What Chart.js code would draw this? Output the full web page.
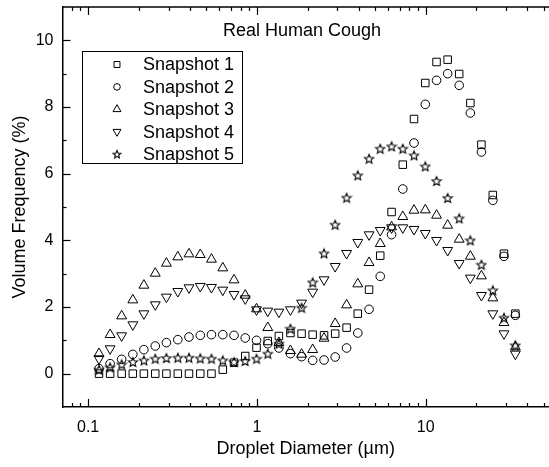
<!DOCTYPE html>
<html>
<head>
<meta charset="utf-8">
<script src="https://cdn.jsdelivr.net/npm/chart.js@4.4.1/dist/chart.umd.min.js"></script>
<style>
  html, body { margin: 0; padding: 0; background: #fff; }
  #wrap { width: 549px; height: 467px; }
</style>
</head>
<body>
<div id="wrap"><canvas id="cough" width="549" height="467"></canvas></div>
<script>
'use strict';

// droplet diameters (µm), log-spaced bins
const diameters = [0.116, 0.135, 0.158, 0.184, 0.214, 0.250, 0.291, 0.340, 0.396, 0.462,
  0.538, 0.628, 0.732, 0.853, 0.995, 1.16, 1.35, 1.58, 1.84, 2.14,
  2.50, 2.91, 3.40, 3.96, 4.62, 5.38, 6.28, 7.32, 8.53, 9.95,
  11.6, 13.5, 15.8, 18.4, 21.4, 25.0, 29.1, 34.0];

// volume frequency (%)
const snapshot1 = [0, 0, 0, 0, 0, 0, 0, 0, 0, 0,
  0, 0.12, 0.33, 0.53, 0.78, 0.98, 1.13, 1.22, 1.2, 1.17,
  1.15, 1.2, 1.38, 1.8, 2.52, 3.54, 4.85, 6.27, 7.64, 8.72,
  9.35, 9.42, 8.99, 8.12, 6.87, 5.36, 3.6, 1.8];
const snapshot2 = [0.15, 0.3, 0.43, 0.58, 0.72, 0.83, 0.93, 1.02, 1.1, 1.15,
  1.17, 1.17, 1.15, 1.07, 1.0, 0.9, 0.77, 0.6, 0.51, 0.4,
  0.41, 0.5, 0.77, 1.22, 1.93, 2.92, 4.17, 5.54, 6.92, 8.08,
  8.8, 9.0, 8.65, 7.82, 6.65, 5.2, 3.52, 1.75];
const snapshot3 = [0.6, 1.17, 1.73, 2.21, 2.65, 3.01, 3.31, 3.5, 3.59, 3.57,
  3.43, 3.17, 2.81, 2.35, 1.94, 1.38, 0.93, 0.69, 0.58, 0.72,
  1.06, 1.5, 2.06, 2.69, 3.33, 3.9, 4.4, 4.71, 4.9, 4.91,
  4.75, 4.45, 4.03, 3.52, 2.93, 2.27, 1.53, 0.8];
const snapshot4 = [0.45, 0.75, 1.14, 1.47, 1.8, 2.07, 2.3, 2.47, 2.58, 2.62,
  2.59, 2.51, 2.38, 2.25, 1.92, 1.88, 1.85, 1.92, 2.12, 2.45,
  2.82, 3.22, 3.61, 3.94, 4.17, 4.3, 4.38, 4.38, 4.33, 4.21,
  4.0, 3.7, 3.31, 2.87, 2.35, 1.8, 1.2, 0.59];
const snapshot5 = [0.12, 0.19, 0.28, 0.35, 0.4, 0.45, 0.47, 0.48, 0.48, 0.46,
  0.45, 0.4, 0.35, 0.38, 0.45, 0.6, 0.9, 1.35, 1.98, 2.74,
  3.61, 4.47, 5.28, 5.95, 6.45, 6.75, 6.82, 6.75, 6.55, 6.22,
  5.78, 5.27, 4.66, 4.0, 3.27, 2.5, 1.68, 0.85];

const seriesLabels = ['Snapshot 1', 'Snapshot 2', 'Snapshot 3', 'Snapshot 4', 'Snapshot 5'];
const xTickLabels = [0.1, 1, 10];
const yTickLabels = [0, 2, 4, 6, 8, 10];

const FONT = "Arial, 'Liberation Sans', Helvetica, sans-serif";

// five-pointed hollow star, Chart.js has no such point style
function makeStar(size, ro) {
  const c = document.createElement('canvas');
  c.width = size; c.height = size;
  const g = c.getContext('2d');
  const cx = size / 2, cy = size / 2 + 0.5;
  const ri = ro * 0.45;
  g.beginPath();
  for (let i = 0; i < 10; i++) {
    const r = i % 2 ? ri : ro;
    const a = -Math.PI / 2 + i * Math.PI / 5;
    const px = cx + r * Math.cos(a), py = cy + r * Math.sin(a);
    if (i === 0) g.moveTo(px, py); else g.lineTo(px, py);
  }
  g.closePath();
  g.strokeStyle = '#000';
  g.lineWidth = 1.1;
  g.stroke();
  return c;
}

const starBig = makeStar(12, 4.8);
const starSmall = makeStar(10, 4.0);

// marker per series (plot / legend)
const markers = [
  { style: 'rect', radius: 5.3, legendRadius: 4.2, rotation: 0 },
  { style: 'circle', radius: 4.3, legendRadius: 3.3, rotation: 0 },
  { style: 'triangle', radius: 5.7, legendRadius: 4.6, rotation: 0 },
  { style: 'triangle', radius: 5.7, legendRadius: 4.6, rotation: 180 },
  { style: starBig, radius: 6, legendRadius: 5, rotation: 0, legendStyle: starSmall }
];

const seriesValues = [snapshot1, snapshot2, snapshot3, snapshot4, snapshot5];

const datasets = seriesValues.map(function(vals, i) {
  return {
    label: seriesLabels[i],
    data: vals.map(function(v, k) { return { x: diameters[k], y: v }; }),
    showLine: false,
    pointStyle: markers[i].style,
    pointRadius: markers[i].radius,
    pointHoverRadius: markers[i].radius,
    pointRotation: markers[i].rotation,
    borderColor: '#000',
    backgroundColor: 'rgba(0,0,0,0)',
    pointBorderWidth: 1
  };
});

// minor ticks on the log axis
const xMinor = [];
[0.01, 0.1, 1, 10].forEach(function(dec) {
  for (let m = 2; m <= 9; m++) xMinor.push(m * dec);
});

const frameTicksLegend = {
  id: 'frameTicksLegend',
  afterDraw(chart) {
    const ctx = chart.ctx;
    const a = chart.chartArea;
    const xs = chart.scales.x, ys = chart.scales.y;
    ctx.save();
    ctx.strokeStyle = '#000';

    // top frame line
    ctx.lineWidth = 1.5;
    ctx.beginPath();
    ctx.moveTo(a.left, a.top);
    ctx.lineTo(a.right, a.top);
    ctx.stroke();

    // inward ticks, bottom and top
    ctx.lineWidth = 1.2;
    function xTick(v, len) {
      if (v < xs.min || v > xs.max) return;
      const px = Math.round(xs.getPixelForValue(v)) + 0.5;
      ctx.beginPath();
      ctx.moveTo(px, a.bottom); ctx.lineTo(px, a.bottom - len);
      ctx.moveTo(px, a.top); ctx.lineTo(px, a.top + len);
      ctx.stroke();
    }
    xTickLabels.forEach(function(v) { xTick(v, 8); });
    xMinor.forEach(function(v) { xTick(v, 4); });

    function yTick(v, len) {
      const py = Math.round(ys.getPixelForValue(v)) + 0.5;
      ctx.beginPath();
      ctx.moveTo(a.left, py); ctx.lineTo(a.left + len, py);
      ctx.stroke();
    }
    yTickLabels.forEach(function(v) { yTick(v, 8); });
    [1, 3, 5, 7, 9].forEach(function(v) { yTick(v, 4); });

    // title inside the plot
    ctx.fillStyle = '#000';
    ctx.font = '18px ' + FONT;
    ctx.textAlign = 'center';
    ctx.textBaseline = 'middle';
    ctx.fillText('Real Human Cough', 302, 31);

    // legend box
    ctx.lineWidth = 1;
    ctx.strokeRect(82.5, 51.5, 160, 112);
    ctx.textAlign = 'left';
    seriesLabels.forEach(function(lbl, i) {
      const y = 64.5 + i * 22.4;
      const m = markers[i];
      ctx.fillStyle = 'rgba(0,0,0,0)';
      ctx.strokeStyle = '#000';
      Chart.helpers.drawPoint(ctx, {
        pointStyle: m.legendStyle || m.style,
        radius: m.legendRadius,
        rotation: m.rotation,
        borderWidth: 1
      }, 117, y);
      ctx.fillStyle = '#000';
      ctx.fillText(lbl, 143, y + 1);
    });
    ctx.restore();
  }
};

new Chart(document.getElementById('cough'), {
  type: 'scatter',
  data: { datasets: datasets },
  options: {
    responsive: false,
    devicePixelRatio: 1,
    animation: false,
    layout: { autoPadding: false, padding: { top: 7, right: 0, left: 0, bottom: 0 } },
    plugins: {
      legend: { display: false },
      tooltip: { enabled: false },
      title: { display: false }
    },
    scales: {
      x: {
        type: 'logarithmic',
        position: 'bottom',
        min: 0.0705,
        max: 53.8,
        afterBuildTicks: function(s) { s.ticks = xTickLabels.map(function(v) { return { value: v }; }); },
        afterFit: function(s) { s.height = 60; s.paddingLeft = 0; s.paddingRight = 0; },
        grid: { display: false, drawTicks: false },
        border: { display: true, color: '#000', width: 1.5 },
        ticks: {
          color: '#000',
          padding: 11,
          maxRotation: 0,
          autoSkip: false,
          font: { family: FONT, size: 16 },
          callback: function(v) { return String(v); }
        },
        title: {
          display: true,
          text: 'Droplet Diameter (\u00b5m)',
          color: '#000',
          font: { family: FONT, size: 18 },
          padding: { top: 0, bottom: 7 }
        }
      },
      y: {
        type: 'linear',
        min: -1,
        max: 11,
        afterBuildTicks: function(s) { s.ticks = yTickLabels.map(function(v) { return { value: v }; }); },
        afterFit: function(s) { s.width = 62.5; s.paddingTop = 0; s.paddingBottom = 0; },
        grid: { display: false, drawTicks: false },
        border: { display: true, color: '#000', width: 1.5 },
        ticks: {
          color: '#000',
          padding: 9,
          font: { family: FONT, size: 16 }
        },
        title: {
          display: true,
          text: 'Volume Frequency (%)',
          color: '#000',
          font: { family: FONT, size: 18 },
          padding: { top: 9, bottom: 0 }
        }
      }
    }
  },
  plugins: [frameTicksLegend]
});
</script>
</body>
</html>
